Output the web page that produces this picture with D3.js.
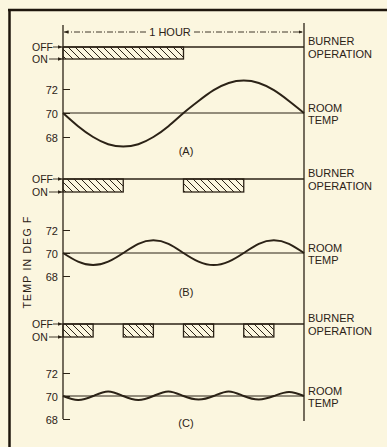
<!DOCTYPE html>
<html><head><meta charset="utf-8">
<script src="https://cdn.jsdelivr.net/npm/d3@7"></script>
<style>
html,body{margin:0;padding:0;background:#fbf6df;}
svg{display:block;}
text{font-family:"Liberation Sans",Arial,sans-serif;fill:#2b2216;}
</style></head>
<body>
<svg id="chart" width="387" height="447"></svg>
<script>
// ---- data ----
const panelNames = ["(A)", "(B)", "(C)"];
const burnerStates = ["OFF", "ON"];
const tempTicks = [68, 70, 72];
const tempTickLabels = ["68", "70", "72"];
const spanLabel = "1 HOUR";
// burner ON intervals in minutes
const burnerA = [[0, 30]];
const burnerB = [[0, 15], [30, 45]];
const burnerC = [[0, 7.5], [15, 22.5], [30, 37.5], [45, 52.5]];
// room temperature readings (minutes, deg F)
const times = [0,3.75,7.5,11.25,15,18.75,22.5,26.25,30,33.75,37.5,41.25,45,48.75,52.5,56.25,60];
const tempsA = [70,68.9,68.0,67.4,67.2,67.4,68.0,68.9,70,71.0,71.9,72.5,72.7,72.5,71.9,71.0,70];
const tempsB = [70,69.25,68.95,69.25,70,70.8,71.1,70.8,70,69.25,68.95,69.25,70,70.8,71.1,70.8,70];
const tempsC = [70,69.65,70,70.4,70,69.65,70,70.4,70,69.7,70,70.4,70,69.7,70,70.35,70];

const ink = "#2b2216";
const svg = d3.select("#chart");
const x = d3.scaleLinear().domain([0, 60]).range([63, 304]);

// hatch pattern
const defs = svg.append("defs");
const pat = defs.append("pattern").attr("id", "hatch").attr("patternUnits", "userSpaceOnUse")
  .attr("width", 7).attr("height", 7);
pat.append("path").attr("d", "M-1,-1L8,8M-1,6L1,8M6,-1L8,1").attr("stroke", ink).attr("stroke-width", 1);
defs.append("marker").attr("id", "ah").attr("viewBox", "0 0 10 10").attr("refX", 10).attr("refY", 5)
  .attr("markerWidth", 5).attr("markerHeight", 5).attr("orient", "auto-start-reverse")
  .append("path").attr("d", "M0,1L10,5L0,9Z").attr("fill", ink);

// frame
svg.append("line").attr("x1", 8).attr("x2", 387).attr("y1", 10).attr("y2", 10).attr("stroke", "#1e160c").attr("stroke-width", 2.5);
svg.append("line").attr("x1", 9.5).attr("x2", 9.5).attr("y1", 9).attr("y2", 447).attr("stroke", "#1e160c").attr("stroke-width", 2.5);

// verticals
svg.append("line").attr("x1", x(0)).attr("x2", x(0)).attr("y1", 25).attr("y2", 419).attr("stroke", ink).attr("stroke-width", 1.3);
svg.append("line").attr("x1", x(60)).attr("x2", x(60)).attr("y1", 23).attr("y2", 421).attr("stroke", ink).attr("stroke-width", 1.3);

// 1 hour dimension
svg.append("line").attr("x1", 146).attr("x2", x(0) + 1).attr("y1", 32).attr("y2", 32)
  .attr("stroke", ink).attr("stroke-width", 0.9).attr("stroke-dasharray", "6,2,1,2").attr("marker-end", "url(#ah)");
svg.append("line").attr("x1", 194).attr("x2", x(60) - 1).attr("y1", 32).attr("y2", 32)
  .attr("stroke", ink).attr("stroke-width", 0.9).attr("stroke-dasharray", "6,2,1,2").attr("marker-end", "url(#ah)");
svg.append("text").attr("x", 170).attr("y", 36).attr("text-anchor", "middle").attr("font-size", 11).text(spanLabel);

// y title
svg.append("text").attr("transform", "translate(31,262) rotate(-90)").attr("text-anchor", "middle")
  .attr("font-size", 10.5).attr("letter-spacing", 1.2).text("TEMP IN DEG F");

const panels = [
  {name: panelNames[0], burner: burnerA, temps: tempsA, off: 47, on: 59, t68: 137, t72: 89, lab: 155},
  {name: panelNames[1], burner: burnerB, temps: tempsB, off: 179, on: 192, t68: 276, t72: 230, lab: 296},
  {name: panelNames[2], burner: burnerC, temps: tempsC, off: 324, on: 337, t68: 419, t72: 373, lab: 427},
];

panels.forEach(p => {
  const g = svg.append("g");
  const b = d3.scalePoint().domain(burnerStates).range([p.off, p.on]);
  const y = d3.scaleLinear().domain([68, 72]).range([p.t68, p.t72]);

  // OFF line
  g.append("line").attr("x1", x(0)).attr("x2", x(60)).attr("y1", b("OFF")).attr("y2", b("OFF"))
    .attr("stroke", ink).attr("stroke-width", 1.3);
  // burner bars
  g.selectAll("rect.bar").data(p.burner).join("rect").attr("class", "bar")
    .attr("x", d => x(d[0])).attr("width", d => x(d[1]) - x(d[0]))
    .attr("y", b("OFF")).attr("height", b("ON") - b("OFF"))
    .attr("fill", "url(#hatch)").attr("stroke", ink).attr("stroke-width", 1.3);
  // OFF/ON labels with arrows
  burnerStates.forEach(s => {
    g.append("text").attr("x", 32).attr("y", b(s) + 4).attr("font-size", 10.5).text(s);
    g.append("line").attr("x1", s === "OFF" ? 53 : 49).attr("x2", x(0) - 0.5).attr("y1", b(s)).attr("y2", b(s))
      .attr("stroke", ink).attr("stroke-width", 0.9).attr("marker-end", "url(#ah)");
  });

  // temperature axis
  const ax = d3.axisLeft(y).tickValues(tempTicks).tickFormat((d, i) => tempTickLabels[i]).tickSize(-7).tickPadding(5);
  const axg = g.append("g").attr("transform", `translate(${x(0)},0)`).call(ax);
  axg.select(".domain").remove();
  axg.selectAll("line").attr("stroke", ink).attr("stroke-width", 1);
  axg.selectAll("text").attr("font-size", 11).attr("font-family", "Liberation Sans, Arial, sans-serif").attr("fill", ink).attr("dy", "0.4em");

  // 70 reference line
  g.append("line").attr("x1", x(0)).attr("x2", x(60)).attr("y1", y(70)).attr("y2", y(70))
    .attr("stroke", ink).attr("stroke-width", 1);
  // temperature curve
  const line = d3.line().x((d, i) => x(times[i])).y(d => y(d)).curve(d3.curveNatural);
  g.append("path").attr("d", line(p.temps)).attr("fill", "none").attr("stroke", ink).attr("stroke-width", 2);

  // right labels
  g.append("text").attr("x", 308).attr("y", b("OFF") - 2).attr("font-size", 11).text("BURNER");
  g.append("text").attr("x", 308).attr("y", b("OFF") + 10.5).attr("font-size", 11).text("OPERATION");
  g.append("text").attr("x", 308).attr("y", y(70) - 1.5).attr("font-size", 11).text("ROOM");
  g.append("text").attr("x", 308).attr("y", y(70) + 10.5).attr("font-size", 11).text("TEMP");
  // panel name
  g.append("text").attr("x", 186).attr("y", p.lab).attr("text-anchor", "middle").attr("font-size", 11).text(p.name);
});
</script>
</body></html>
